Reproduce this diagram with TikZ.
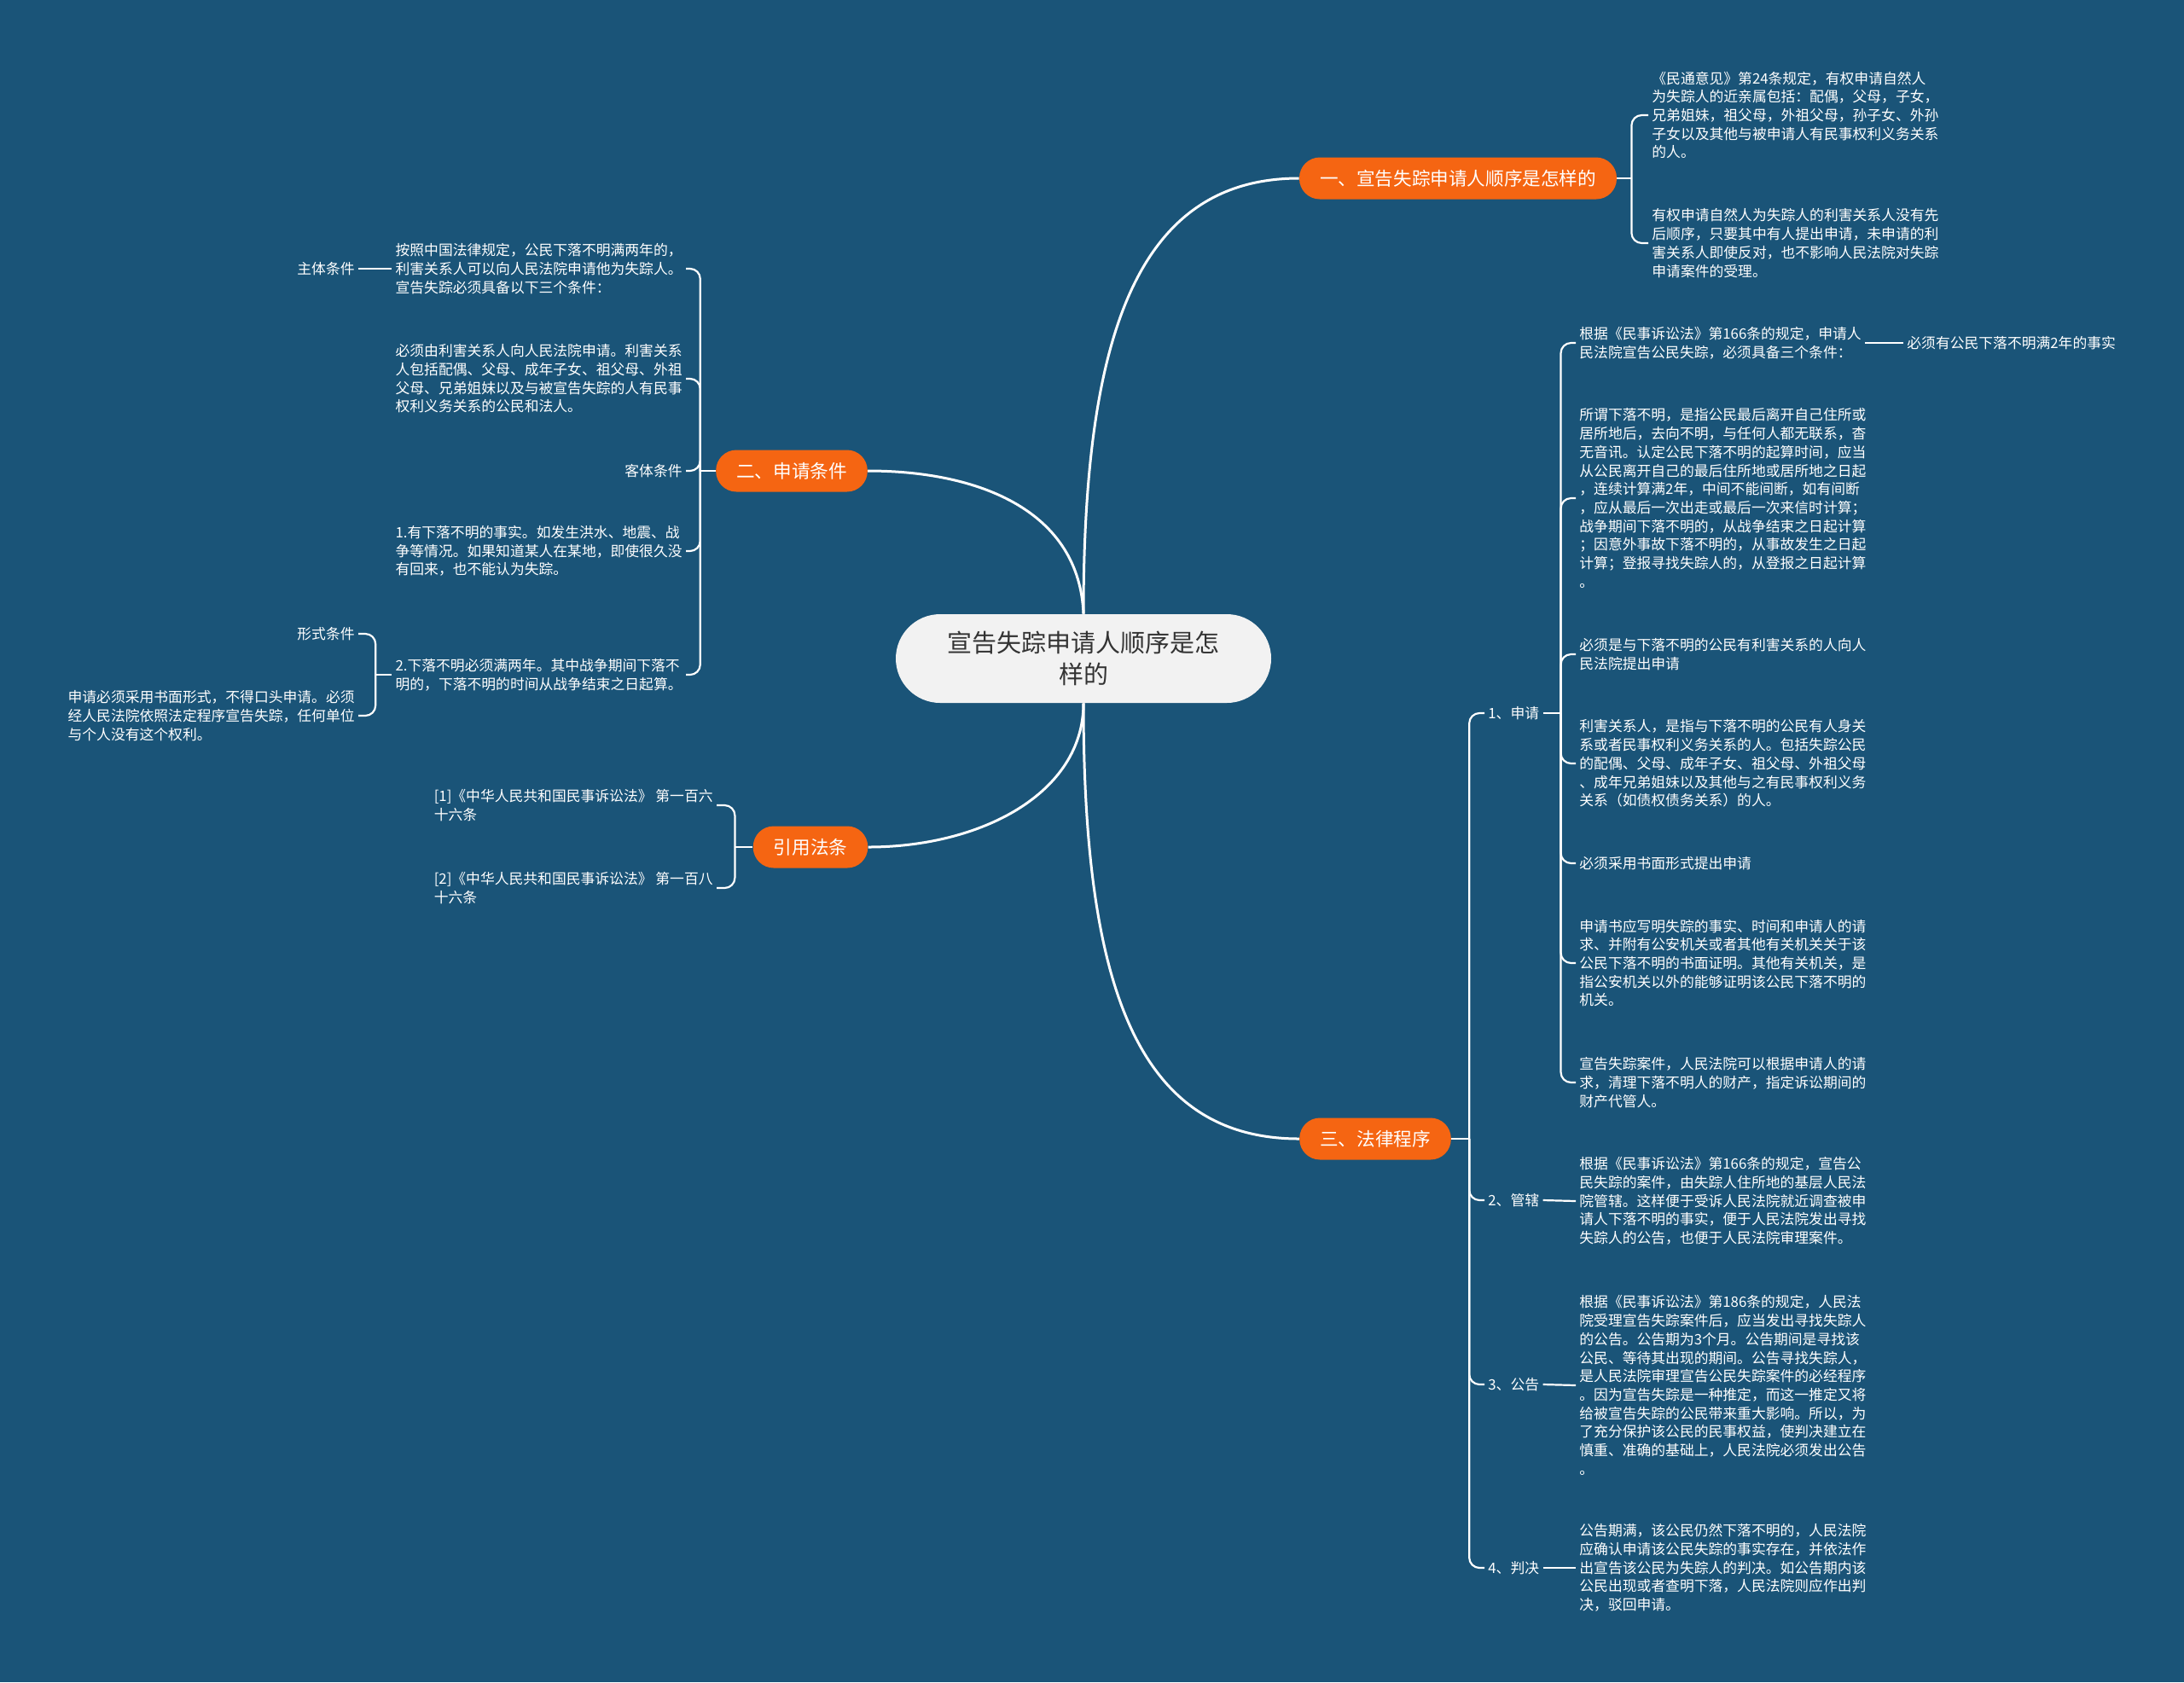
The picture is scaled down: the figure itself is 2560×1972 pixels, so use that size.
\documentclass[tikz,border=0pt]{standalone}
\usepackage{fontspec}
\newfontfamily\cjk{Noto Sans CJK SC}
\usetikzlibrary{positioning,calc}
\definecolor{bgBlue}{HTML}{1A5478}
\definecolor{branchOrange}{HTML}{F56512}
\definecolor{rootGrey}{HTML}{F2F2F2}
\definecolor{rootText}{HTML}{333333}

\begin{document}
\begin{tikzpicture}[
  x=.5pt,y=-.5pt,
  font=\cjk,
  rootNode/.style={fill=rootGrey,text=rootText,rounded corners=26pt,minimum width=220pt,minimum height=52pt,align=center,inner sep=0pt,font=\cjk\fontsize{14.5}{18.8}\selectfont},
  branchNode/.style={fill=branchOrange,text=white,rounded corners=12pt,minimum height=24.5pt,inner xsep=12pt,inner ysep=0pt,font=\cjk\fontsize{10.8}{13}\selectfont},
  leafText/.style={text=white,align=left,inner sep=2pt,font=\cjk\fontsize{8.4}{10.85}\selectfont},
  mainCurve/.style={white,line width=1.5pt},
  braceLine/.style={white,line width=1.1pt,rounded corners=6pt}
]
\useasboundingbox (0,0) rectangle (2560,1972);
\fill[bgBlue] (0,0) rectangle (2560,1972);

\node[rootNode] (root) at (1270,772) {宣告失踪申请人顺序是怎\\样的};
\node[branchNode] (b1) at (1709,209) {一、宣告失踪申请人顺序是怎样的};
\node[branchNode] (b2) at (928,552) {二、申请条件};
\node[branchNode] (b3) at (950,993) {引用法条};
\node[branchNode] (b4) at (1612,1335) {三、法律程序};

\draw[mainCurve] (root.north) .. controls (1270,400) and (1330,209) .. (b1.west);
\draw[mainCurve] (root.north) .. controls (1265,600) and (1150,552) .. (b2.east);
\draw[mainCurve] (root.south) .. controls (1270,930) and (1150,993) .. (b3.east);
\draw[mainCurve] (root.south) .. controls (1270,1150) and (1330,1335) .. (b4.west);

\node[leafText,anchor=west] (l1a) at (1932,135) {《民通意见》第24条规定，有权申请自然人\\为失踪人的近亲属包括：配偶，父母，子女，\\兄弟姐妹，祖父母，外祖父母，孙子女、外孙\\子女以及其他与被申请人有民事权利义务关系\\的人。};
\node[leafText,anchor=west] (l1b) at (1932,285) {有权申请自然人为失踪人的利害关系人没有先\\后顺序，只要其中有人提出申请，未申请的利\\害关系人即使反对，也不影响人民法院对失踪\\申请案件的受理。};
\coordinate (j1) at ($(b1.east)+(17,0)$);
\draw[braceLine] (b1.east) -- (j1);
\draw[braceLine] (j1) |- (l1a.west);
\draw[braceLine] (j1) |- (l1b.west);

\node[leafText,anchor=east] (l2a) at (804,315) {按照中国法律规定，公民下落不明满两年的，\\利害关系人可以向人民法院申请他为失踪人。\\宣告失踪必须具备以下三个条件：};
\node[leafText,anchor=east] (l2b) at (804,444) {必须由利害关系人向人民法院申请。利害关系\\人包括配偶、父母、成年子女、祖父母、外祖\\父母、兄弟姐妹以及与被宣告失踪的人有民事\\权利义务关系的公民和法人。};
\node[leafText,anchor=east] (l2c) at (804,552) {客体条件};
\node[leafText,anchor=east] (l2d) at (804,646) {1.有下落不明的事实。如发生洪水、地震、战\\争等情况。如果知道某人在某地，即使很久没\\有回来，也不能认为失踪。};
\node[leafText,anchor=east] (l2e) at (804,791) {2.下落不明必须满两年。其中战争期间下落不\\明的，下落不明的时间从战争结束之日起算。};
\coordinate (j2) at ($(b2.west)+(-18,0)$);
\draw[braceLine] (b2.west) -- (j2);
\foreach \leaf in {l2a,l2b,l2c,l2d,l2e}
  \draw[braceLine] (j2) |- (\leaf.east);

\node[leafText,anchor=east] (l2a1) at (420,315) {主体条件};
\draw[braceLine] (l2a.west) -- (l2a1.east);

\node[leafText,anchor=east] (l2e1) at (420,743) {形式条件};
\node[leafText,anchor=east] (l2e2) at (420,839) {申请必须采用书面形式，不得口头申请。必须\\经人民法院依照法定程序宣告失踪，任何单位\\与个人没有这个权利。};
\coordinate (j2e) at ($(l2e.west)+(-19,0)$);
\draw[braceLine] (l2e.west) -- (j2e);
\draw[braceLine] (j2e) |- (l2e1.east);
\draw[braceLine] (j2e) |- (l2e2.east);

\node[leafText,anchor=east] (l3a) at (840,944) {[1]《中华人民共和国民事诉讼法》 第一百六\\十六条};
\node[leafText,anchor=east] (l3b) at (840,1041) {[2]《中华人民共和国民事诉讼法》 第一百八\\十六条};
\coordinate (j3) at ($(b3.west)+(-21,0)$);
\draw[braceLine] (b3.west) -- (j3);
\draw[braceLine] (j3) |- (l3a.east);
\draw[braceLine] (j3) |- (l3b.east);

\node[leafText,anchor=west] (l4a) at (1740,836) {1、申请};
\node[leafText,anchor=west] (l4b) at (1740,1407) {2、管辖};
\node[leafText,anchor=west] (l4c) at (1740,1623) {3、公告};
\node[leafText,anchor=west] (l4d) at (1740,1838) {4、判决};
\coordinate (j4) at ($(b4.east)+(21,0)$);
\draw[braceLine] (b4.east) -- (j4);
\foreach \leaf in {l4a,l4b,l4c,l4d}
  \draw[braceLine] (j4) |- (\leaf.west);

\node[leafText,anchor=west] (c1) at (1847,402) {根据《民事诉讼法》第166条的规定，申请人\\民法院宣告公民失踪，必须具备三个条件：};
\node[leafText,anchor=west] (c2) at (1847,584) {所谓下落不明，是指公民最后离开自己住所或\\居所地后，去向不明，与任何人都无联系，杳\\无音讯。认定公民下落不明的起算时间，应当\\从公民离开自己的最后住所地或居所地之日起\\，连续计算满2年，中间不能间断，如有间断\\，应从最后一次出走或最后一次来信时计算；\\战争期间下落不明的，从战争结束之日起计算\\；因意外事故下落不明的，从事故发生之日起\\计算；登报寻找失踪人的，从登报之日起计算\\。};
\node[leafText,anchor=west] (c3) at (1847,767) {必须是与下落不明的公民有利害关系的人向人\\民法院提出申请};
\node[leafText,anchor=west] (c4) at (1847,895) {利害关系人，是指与下落不明的公民有人身关\\系或者民事权利义务关系的人。包括失踪公民\\的配偶、父母、成年子女、祖父母、外祖父母\\、成年兄弟姐妹以及其他与之有民事权利义务\\关系（如债权债务关系）的人。};
\node[leafText,anchor=west] (c5) at (1847,1012) {必须采用书面形式提出申请};
\node[leafText,anchor=west] (c6) at (1847,1129) {申请书应写明失踪的事实、时间和申请人的请\\求、并附有公安机关或者其他有关机关关于该\\公民下落不明的书面证明。其他有关机关，是\\指公安机关以外的能够证明该公民下落不明的\\机关。};
\node[leafText,anchor=west] (c7) at (1847,1269) {宣告失踪案件，人民法院可以根据申请人的请\\求，清理下落不明人的财产，指定诉讼期间的\\财产代管人。};
\coordinate (j4a) at ($(l4a.east)+(21,0)$);
\draw[braceLine] (l4a.east) -- (j4a);
\foreach \leaf in {c1,c2,c3,c4,c5,c6,c7}
  \draw[braceLine] (j4a) |- (\leaf.west);

\node[leafText,anchor=west] (c1x) at (2231,402) {必须有公民下落不明满2年的事实};
\draw[braceLine] (c1.east) -- (c1x.west);

\node[leafText,anchor=west] (l4b1) at (1847,1408) {根据《民事诉讼法》第166条的规定，宣告公\\民失踪的案件，由失踪人住所地的基层人民法\\院管辖。这样便于受诉人民法院就近调查被申\\请人下落不明的事实，便于人民法院发出寻找\\失踪人的公告，也便于人民法院审理案件。};
\node[leafText,anchor=west] (l4c1) at (1847,1624) {根据《民事诉讼法》第186条的规定，人民法\\院受理宣告失踪案件后，应当发出寻找失踪人\\的公告。公告期为3个月。公告期间是寻找该\\公民、等待其出现的期间。公告寻找失踪人，\\是人民法院审理宣告公民失踪案件的必经程序\\。因为宣告失踪是一种推定，而这一推定又将\\给被宣告失踪的公民带来重大影响。所以，为\\了充分保护该公民的民事权益，使判决建立在\\慎重、准确的基础上，人民法院必须发出公告\\。};
\node[leafText,anchor=west] (l4d1) at (1847,1838) {公告期满，该公民仍然下落不明的，人民法院\\应确认申请该公民失踪的事实存在，并依法作\\出宣告该公民为失踪人的判决。如公告期内该\\公民出现或者查明下落，人民法院则应作出判\\决，驳回申请。};
\draw[braceLine] (l4b.east) -- (l4b1.west);
\draw[braceLine] (l4c.east) -- (l4c1.west);
\draw[braceLine] (l4d.east) -- (l4d1.west);
\end{tikzpicture}
\end{document}
